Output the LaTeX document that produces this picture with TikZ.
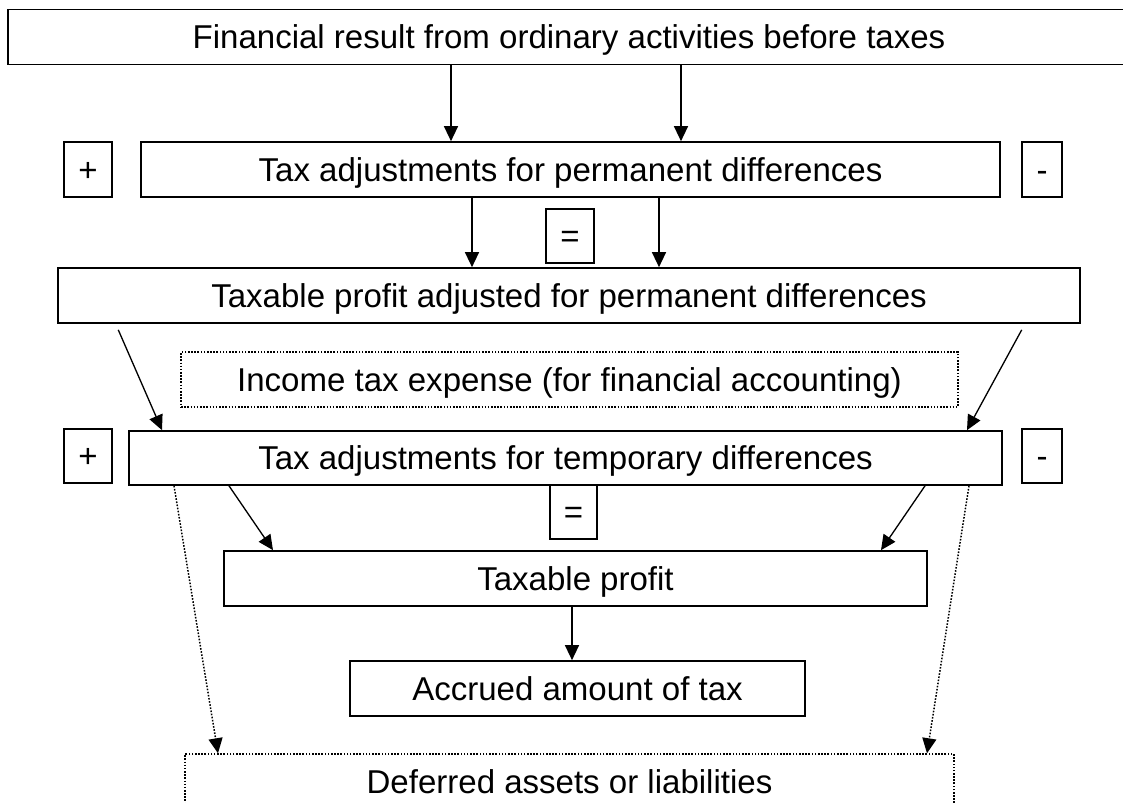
\documentclass[tikz,border=0pt]{standalone}
\usepackage{fontspec}
\setmainfont{Liberation Sans}
\usetikzlibrary{arrows.meta,calc}

\begin{document}
\begin{tikzpicture}[x=0.02cm,y=-0.02cm,
  box/.style={draw, line width=0.95pt, inner sep=0pt, minimum height=1.1cm, text height=16.9pt, text depth=3.4pt, font=\fontsize{18.8}{22}\selectfont},
  dotbox/.style={box, line width=0.85pt, dash pattern=on 0.9pt off 0.9pt},
  arr/.style={line width=0.75pt, -{Triangle[length=0.3cm,width=0.28cm]}},
  dotarr/.style={arr, line width=0.85pt, dash pattern=on 0.9pt off 0.9pt}]
\clip (0,0) rectangle (1123,803);
\node[box, minimum width=22.44cm] (fin) at (569,37) {Financial result from ordinary activities before taxes};
\node[box, minimum width=0.96cm] (plusA) at (88,169.5) {+};
\node[box, minimum width=17.18cm] (perm) at (570.5,169.5) {Tax adjustments for permanent differences};
\node[box, minimum width=0.8cm] (minusA) at (1042,169.5) {-};
\node[box, minimum width=0.96cm, minimum height=1.08cm] (eqA) at (570,236) {=};
\node[box, minimum width=20.44cm] (tpa) at (569,295.5) {Taxable profit adjusted for permanent differences};
\node[dotbox, minimum width=15.54cm] (itx) at (569.5,379.5) {Income tax expense (for financial accounting)};
\node[box, minimum width=0.96cm, minimum height=1.08cm] (plusB) at (88,456) {+};
\node[box, minimum width=17.46cm, minimum height=1.08cm] (temp) at (565.5,458) {Tax adjustments for temporary differences};
\node[box, minimum width=0.8cm, minimum height=1.08cm] (minusB) at (1042,456) {-};
\node[box, minimum width=0.94cm, minimum height=1.08cm] (eqB) at (573.5,512) {=};
\node[box, minimum width=14.06cm] (tp) at (575.5,578.5) {Taxable profit};
\node[box, minimum width=9.1cm] (acc) at (577.5,688.5) {Accrued amount of tax};
\node[dotbox, minimum width=15.38cm] (def) at (569.5,781.5) {Deferred assets or liabilities};
\draw[arr] (fin.south -| 451,0) -- (perm.north -| 451,0);
\draw[arr] (fin.south -| 681,0) -- (perm.north -| 681,0);
\draw[arr] (perm.south -| 472,0) -- (tpa.north -| 472,0);
\draw[arr] (perm.south -| 659,0) -- (tpa.north -| 659,0);
\draw[arr] ($(tpa.south west)+(61,6)$) -- (temp.north -| 162,0);
\draw[arr] ($(tpa.south east)+(-59,6)$) -- (temp.north -| 967,0);
\draw[arr] (temp.south -| 229,0) -- (tp.north -| 273,0);
\draw[arr] (temp.south -| 925,0) -- (tp.north -| 881,0);
\draw[dotarr] (temp.south -| 174,0) -- (def.north -| 218,0);
\draw[dotarr] (temp.south -| 969,0) -- (def.north -| 927,0);
\draw[arr] (tp.south -| 572,0) -- (acc.north -| 572,0);
\end{tikzpicture}
\end{document}
